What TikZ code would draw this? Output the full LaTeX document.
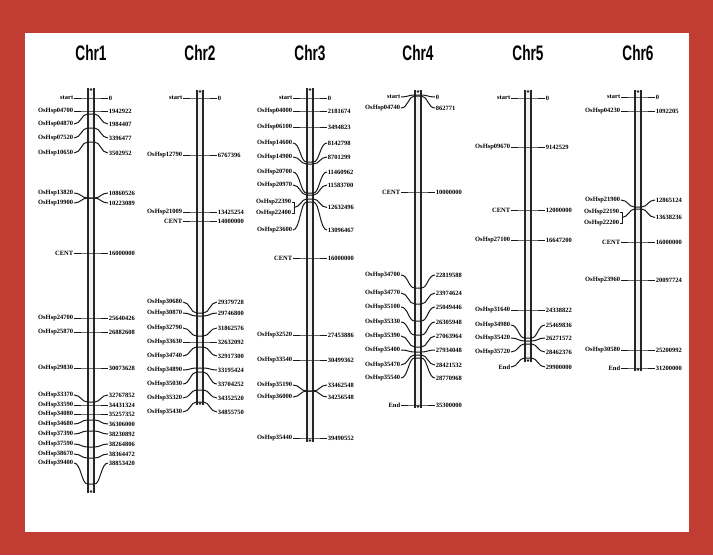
\documentclass[tikz,border=0pt]{standalone}
\usepackage{fontspec}
\setmainfont{Liberation Serif}
\newfontfamily\titlefont[FakeStretch=0.65]{Liberation Sans}
\definecolor{framered}{RGB}{193,60,50}
\tikzset{
 lbl/.style={font=\fontsize{6.5}{7}\selectfont\bfseries, inner sep=0.6pt, text=black},
 conn/.style={line width=1pt, draw=black!90},
 chrtitle/.style={font=\titlefont\bfseries\fontsize{21}{24}\selectfont, inner sep=0pt},
 axisline/.style={line width=1.3pt, draw=black!85},
}
% marker: name, label y, position y, left text, right text
\newcommand\mk[5]{%
 \node[lbl,anchor=east] (#1L) at ({\xc-17},#2) {#4};
 \node[lbl,anchor=west] (#1R) at ({\xc+17},#2) {#5};
 \coordinate (#1P) at (\xc,#3);
 \draw[conn] (#1L.east) .. controls +(7,0) and +(-6,0) .. ([xshift=-3.5pt]#1P) -- ([xshift=3.5pt]#1P) .. controls +(6,0) and +(-7,0) .. (#1R.west);
}
% bracketed marker: name, y1, y2, position y, left1, left2, right
\newcommand\mkb[7]{%
 \node[lbl,anchor=east] (#1A) at ({\xc-18},#2) {#5};
 \node[lbl,anchor=east] (#1B) at ({\xc-18},#3) {#6};
 \node[lbl,anchor=west] (#1R) at ({\xc+17},{(#2+#3)/2}) {#7};
 \coordinate (#1T) at ({\xc-16},#2);
 \coordinate (#1U) at ({\xc-16},#3);
 \coordinate (#1M) at ({\xc-16},{(#2+#3)/2});
 \coordinate (#1P) at (\xc,#4);
 \draw[conn] (#1A.east) -- (#1T) -- (#1U) -- (#1B.east);
 \draw[conn] (#1M) .. controls +(6,0) and +(-5,0) .. ([xshift=-3.5pt]#1P) -- ([xshift=3.5pt]#1P) .. controls +(6,0) and +(-7,0) .. (#1R.west);
}
% chromosome: name, top y, bottom y
\newcommand\chrom[3]{%
 \coordinate (#1top) at (\xc,#2);
 \coordinate (#1bot) at (\xc,#3);
 \fill[gray!10] ([xshift=-3pt]#1top) rectangle ([xshift=3pt]#1bot);
 \draw[axisline] ([xshift=-3pt]#1top) -- ([xshift=-3pt]#1bot);
 \draw[axisline] ([xshift=3pt]#1top) -- ([xshift=3pt]#1bot);
 \fill[black!85] ([yshift=-1.5pt]#1top) circle (1.3pt);
 \fill[black!85] ([yshift=1.5pt]#1bot) circle (1.3pt);
}
\begin{document}
\begin{tikzpicture}[x=1pt,y=-1pt]
\useasboundingbox (0,0) rectangle (713,555);
\fill[framered] (0,0) rectangle (713,555);
\fill[white] (25,33) rectangle (689,532);

% ---------- Chr1 ----------
\def\xc{91}
\node[chrtitle] (t1) at (\xc,53) {Chr1};
\chrom{c1}{88}{493}
\mk{c1a}{98}{98}{start}{0}
\mk{c1b}{111}{111}{OsHsp04700}{1942922}
\mk{c1c}{124}{114}{OsHsp04870}{1984407}
\mk{c1d}{138}{128}{OsHsp07520}{3396477}
\mk{c1e}{153}{142}{OsHsp10650}{3502952}
\mk{c1f}{193}{198}{OsHsp13820}{10860526}
\mk{c1g}{203}{198}{OsHsp19900}{10223089}
\mk{c1h}{253}{253}{CENT}{16000000}
\mk{c1i}{318}{318}{OsHsp24700}{25640426}
\mk{c1j}{332}{332}{OsHsp25870}{26882608}
\mk{c1k}{368}{368}{OsHsp29830}{30073628}
\mk{c1l}{395}{402}{OsHsp33370}{32767852}
\mk{c1m}{405}{405}{OsHsp33590}{34431324}
\mk{c1n}{414}{414}{OsHsp34080}{35257352}
\mk{c1o}{424}{420}{OsHsp34680}{36306000}
\mk{c1p}{434}{431}{OsHsp37390}{38230892}
\mk{c1q}{444}{447}{OsHsp37590}{38264806}
\mk{c1r}{454}{458}{OsHsp38670}{38364472}
\mk{c1s}{463}{484}{OsHsp39400}{38853420}

% ---------- Chr2 ----------
\def\xc{200}
\node[chrtitle] (t2) at (\xc,53) {Chr2};
\chrom{c2}{90}{405}
\mk{c2a}{98}{98}{start}{0}
\mk{c2b}{155}{155}{OsHsp12790}{6767396}
\mk{c2c}{212}{212}{OsHsp21009}{13425254}
\mk{c2d}{221}{221}{CENT}{14000000}
\mk{c2e}{302}{313}{OsHsp30680}{29379728}
\mk{c2f}{313}{316}{OsHsp30870}{29746800}
\mk{c2g}{328}{336}{OsHsp32790}{31862576}
\mk{c2h}{342}{342}{OsHsp33630}{32632092}
\mk{c2i}{356}{347}{OsHsp34740}{32917300}
\mk{c2j}{370}{368}{OsHsp34890}{33195424}
\mk{c2k}{384}{372}{OsHsp35030}{33704252}
\mk{c2l}{398}{390}{OsHsp35320}{34352520}
\mk{c2m}{412}{402}{OsHsp35430}{34855750}

% ---------- Chr3 ----------
\def\xc{310}
\node[chrtitle] (t3) at (\xc,53) {Chr3};
\chrom{c3}{88}{442}
\mk{c3a}{98}{98}{start}{0}
\mk{c3b}{111}{111}{OsHsp04000}{2181674}
\mk{c3c}{127}{127}{OsHsp06100}{3494823}
\mk{c3d}{143}{162}{OsHsp14600}{8142798}
\mk{c3e}{157}{164}{OsHsp14900}{8701299}
\mk{c3f}{172}{193}{OsHsp20700}{11460962}
\mk{c3g}{185}{195}{OsHsp20970}{11583700}
\mkb{c3h}{202}{213}{199}{OsHsp22390}{OsHsp22400}{12632496}
\mk{c3i}{230}{202}{OsHsp23600}{13096467}
\mk{c3j}{258}{258}{CENT}{16000000}
\mk{c3k}{335}{335}{OsHsp32520}{27453886}
\mk{c3l}{360}{360}{OsHsp33540}{30499362}
\mk{c3m}{385}{391}{OsHsp35190}{33462548}
\mk{c3n}{397}{391}{OsHsp36000}{34256548}
\mk{c3o}{438}{438}{OsHsp35440}{39490552}

% ---------- Chr4 ----------
\def\xc{418}
\node[chrtitle] (t4) at (\xc,53) {Chr4};
\chrom{c4}{90}{408}
\mk{c4a}{97}{95}{start}{0}
\mk{c4b}{108}{96}{OsHsp04740}{862771}
\mk{c4c}{192}{192}{CENT}{10000000}
\mk{c4d}{275}{288}{OsHsp34700}{22819588}
\mk{c4e}{293}{304}{OsHsp34770}{23974624}
\mk{c4f}{307}{321}{OsHsp35100}{25049446}
\mk{c4g}{322}{335}{OsHsp35330}{26305948}
\mk{c4h}{336}{347}{OsHsp35390}{27063964}
\mk{c4i}{350}{352}{OsHsp35400}{27934048}
\mk{c4j}{365}{355}{OsHsp35470}{28421532}
\mk{c4k}{378}{358}{OsHsp35540}{28770968}
\mk{c4l}{405}{405}{End}{35300000}

% ---------- Chr5 ----------
\def\xc{528}
\node[chrtitle] (t5) at (\xc,53) {Chr5};
\chrom{c5}{90}{362}
\mk{c5a}{98}{98}{start}{0}
\mk{c5b}{147}{147}{OsHsp09670}{9142529}
\mk{c5c}{210}{210}{CENT}{12000000}
\mk{c5d}{240}{240}{OsHsp27100}{16647200}
\mk{c5e}{310}{310}{OsHsp31640}{24338822}
\mk{c5f}{325}{338}{OsHsp34980}{25469836}
\mk{c5g}{338}{341}{OsHsp35420}{26271572}
\mk{c5h}{352}{344}{OsHsp35720}{28462376}
\mk{c5i}{367}{358}{End}{29900000}

% ---------- Chr6 ----------
\def\xc{638}
\node[chrtitle] (t6) at (\xc,53) {Chr6};
\chrom{c6}{90}{371}
\mk{c6a}{97}{97}{start}{0}
\mk{c6b}{111}{111}{OsHsp04230}{1092205}
\mk{c6c}{200}{207}{OsHsp21900}{12865124}
\mkb{c6d}{212}{223}{209}{OsHsp22190}{OsHsp22200}{13638236}
\mk{c6e}{242}{242}{CENT}{16000000}
\mk{c6f}{280}{280}{OsHsp23960}{20097724}
\mk{c6g}{350}{350}{OsHsp30580}{25200992}
\mk{c6h}{368}{368}{End}{31200000}
\end{tikzpicture}
\end{document}
